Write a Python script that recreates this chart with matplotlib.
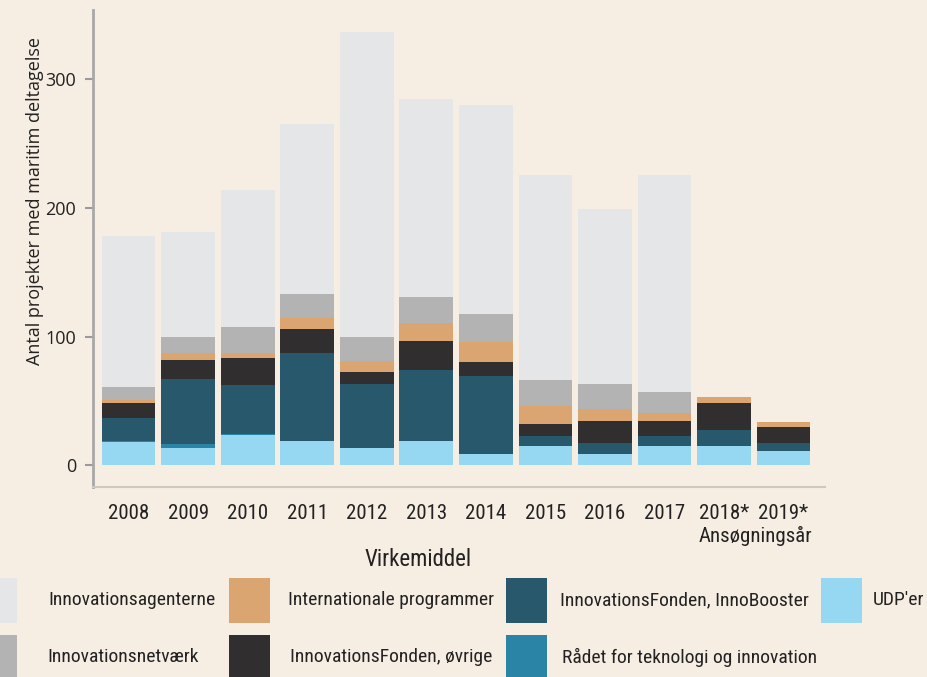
import matplotlib
matplotlib.use("Agg")
import matplotlib.pyplot as plt
from matplotlib.patches import Rectangle
import numpy as np

years = ["2008", "2009", "2010", "2011", "2012", "2013", "2014", "2015", "2016", "2017", "2018*", "2019*"]

udp = [18, 13, 23.5, 18.5, 13, 18.5, 9, 15, 9, 15, 15, 11]
raadet = [1, 3.5, 1, 0, 0, 0, 0, 0, 0, 0, 0, 0]
innobooster = [17.5, 50.5, 37.5, 68.5, 50, 55.5, 60, 7.5, 8, 7.5, 12, 6]
ovrige = [11.5, 15, 21, 19, 9.5, 22.5, 11, 9.5, 17, 11.5, 21, 12.5]
international = [3, 5, 4, 8.5, 8.5, 14, 16, 14, 9.5, 6.5, 5, 4]
netvaerk = [10, 13, 20.5, 18.5, 19, 20.5, 21.5, 20, 19.5, 16.5, 0, 0]
agenterne = [117, 81, 106.5, 132.5, 237, 154, 162.5, 160, 136, 169, 0, 0]

series = [
    ("UDP'er", udp, "#96d8f2"),
    ("Rådet for teknologi og innovation", raadet, "#2a84a6"),
    ("InnovationsFonden, InnoBooster", innobooster, "#27586c"),
    ("InnovationsFonden, øvrige", ovrige, "#302e2f"),
    ("Internationale programmer", international, "#dba572"),
    ("Innovationsnetværk", netvaerk, "#b3b3b3"),
    ("Innovationsagenterne", agenterne, "#e4e6e8"),
]

bg = "#f6ede3"
fig = plt.figure(figsize=(9.28, 6.77), dpi=100, facecolor=bg)
ax = fig.add_axes([93/928, 1-487/677, (825-93)/928, (487-10)/677])
ax.set_facecolor(bg)

x = np.arange(len(years))
bottom = np.zeros(len(years))
for name, vals, col in series:
    v = np.array(vals, dtype=float)
    ax.bar(x, v, bottom=bottom, width=0.9, color=col, linewidth=0)
    bottom += v

cond = ["Roboto Condensed", "Roboto"]
ax.set_xlim(-0.6, 11.7)
ax.set_ylim(-17, 354)
ax.set_yticks([0, 100, 200, 300])
ax.set_yticklabels(["0", "100", "200", "300"], fontfamily="Open Sans", fontsize=13, color="#222222")
ax.tick_params(axis="y", length=6, width=1.5, color="#9a9a9a", pad=6)
ax.set_xticks(x)
ax.set_xticklabels(years, fontfamily=cond, fontsize=15, color="#222222")
ax.tick_params(axis="x", length=0, pad=12)
for s in ["top", "right"]:
    ax.spines[s].set_visible(False)
ax.spines["left"].set_color("#a8a8a8")
ax.spines["left"].set_linewidth(2)
ax.spines["bottom"].set_color("#cfc8c0")
ax.spines["bottom"].set_linewidth(1.5)

fig.text(812/928, 1-536/677, "Ansøgningsår", ha="right", va="center",
         fontfamily=cond, fontsize=15, color="#222222")
fig.text(418/928, 1-560/677, "Virkemiddel", ha="center", va="center",
         fontfamily=cond, fontsize=16.5, color="#222222")
fig.text(35/928, 1-201/677, "Antal projekter med maritim deltagelse", rotation=90,
         ha="center", va="center", fontfamily="Open Sans", fontsize=13, color="#222222")

# legend (manual layout)
legend_order = [
    (6, -24, 578, 48),
    (4, 229, 578, 288),
    (2, 506, 578, 560),
    (0, 821, 578, 873),
    (5, -24, 635, 47),
    (3, 229, 635, 290),
    (1, 506, 635, 562),
]
for idx, px, py, tx in legend_order:
    name, _, col = series[idx]
    fig.patches.append(Rectangle((px/928, 1-(py+45)/677), 41/928, 45/677,
                                 transform=fig.transFigure, facecolor=col, edgecolor="none"))
    fig.text(tx/928, 1-(py+22)/677, name, ha="left", va="center",
             fontfamily=cond, fontsize=14, color="#222222")

fig.savefig("out.png", dpi=100, facecolor=bg)
